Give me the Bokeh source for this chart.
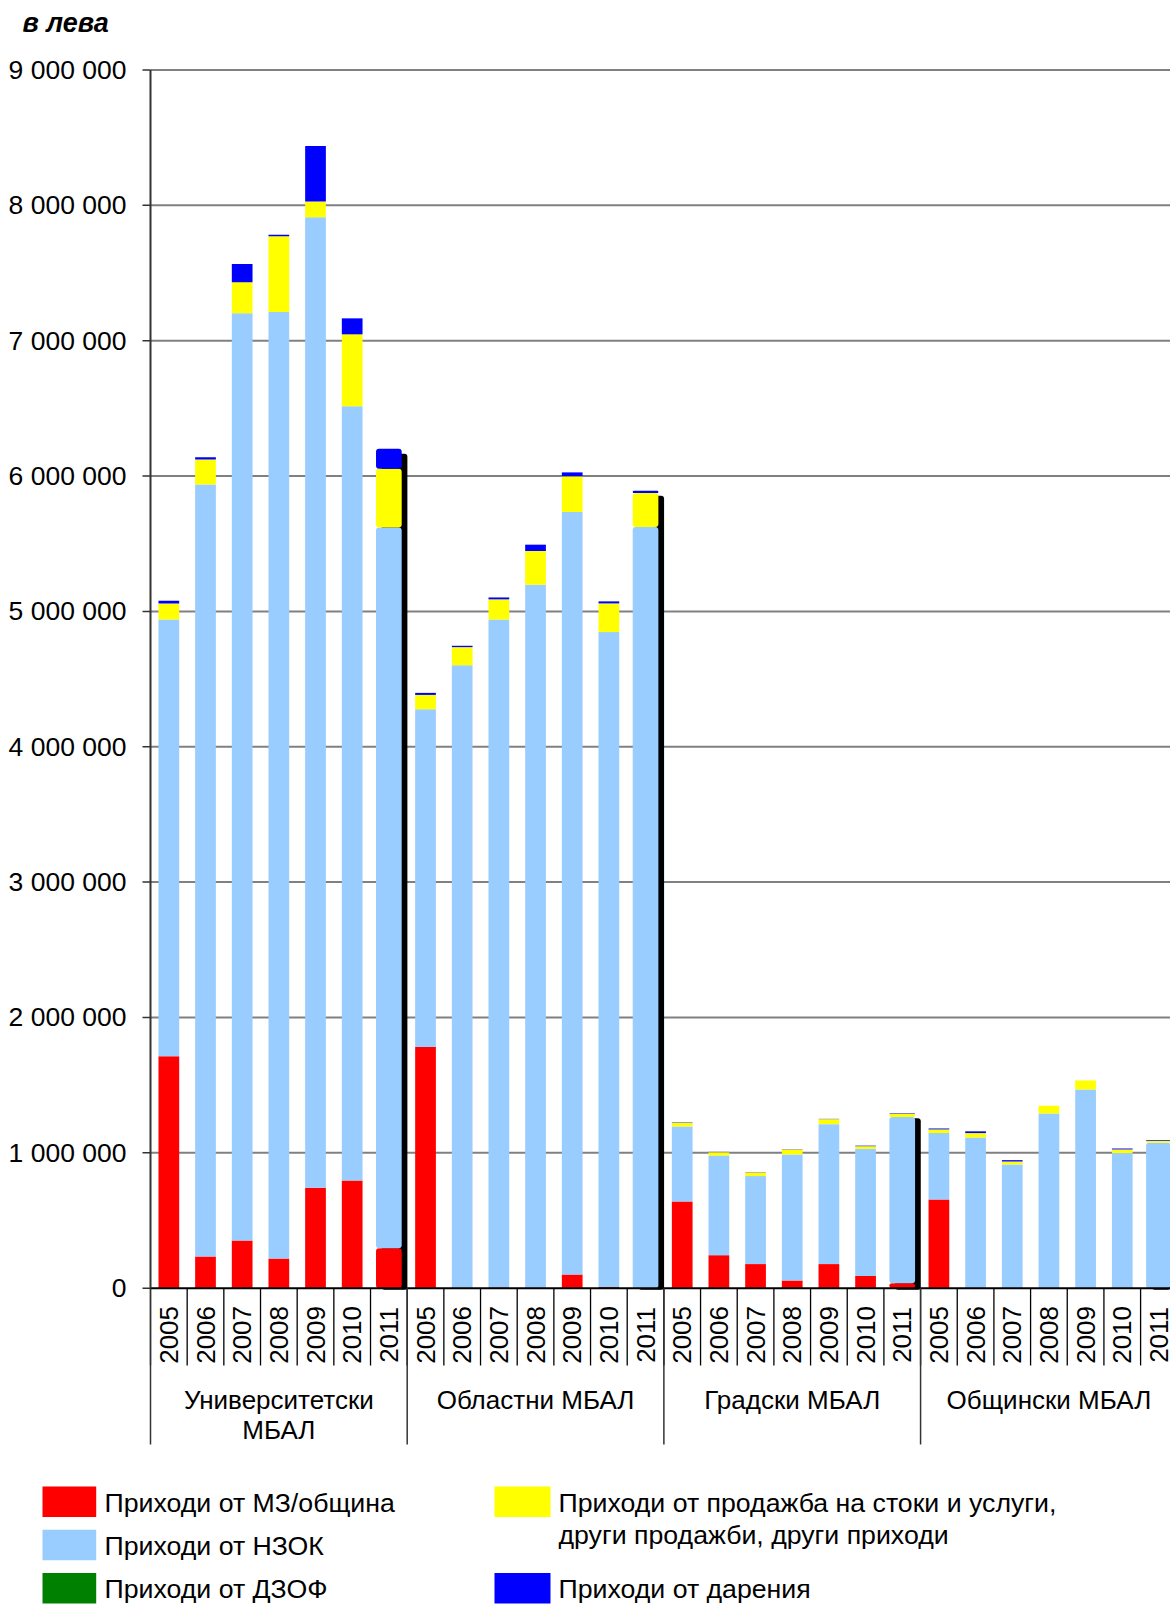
import numpy as np
from bokeh.plotting import figure
from bokeh.models import ColumnDataSource, Range1d
from bokeh.embed import file_html
from bokeh.resources import INLINE
from bokeh.core.properties import value

# ---------------- data ----------------
groups = ["Университетски\nМБАЛ", "Областни МБАЛ", "Градски МБАЛ", "Общински МБАЛ"]
years = ["2005", "2006", "2007", "2008", "2009", "2010", "2011"]
highlight_year = "2011"

series_names = [
    "Приходи от МЗ/община",
    "Приходи от НЗОК",
    "Приходи от ДЗОФ",
    "Приходи от продажба на стоки и услуги,\nдруги продажби, други приходи",
    "Приходи от дарения",
]
series_colors = ["#FF0000", "#99CCFF", "#008000", "#FFFF00", "#0000FF"]

y_ticks = [0, 1000000, 2000000, 3000000, 4000000, 5000000,
           6000000, 7000000, 8000000, 9000000]
y_unit_label = "в лева"

# values per bar (group-major: 7 years per group)
mz_obshtina = [1714000, 234000, 352000, 219000, 742000, 796000, 296000,
               1781000, 0, 6000, 4000, 101000, 8000, 0,
               641000, 244000, 178000, 57000, 178000, 91000, 37000,
               655000, 0, 0, 0, 0, 0, 0]
nzok = [3227000, 5704000, 6850000, 6993000, 7169000, 5719000, 5324000,
        2496000, 4602000, 4934000, 5193000, 5633000, 4839000, 5623000,
        554000, 736000, 650000, 931000, 1034000, 939000, 1227000,
        491000, 1113000, 914000, 1291000, 1468000, 998000, 1074000]
dzof = [0, 0, 0, 0, 0, 0, 0,
        0, 0, 0, 0, 0, 0, 0,
        0, 0, 0, 0, 0, 0, 0,
        0, 0, 0, 0, 0, 0, 0]
prodazhbi = [118000, 185000, 229000, 559000, 118000, 532000, 434000,
             106000, 134000, 149000, 249000, 264000, 212000, 251000,
             27000, 25000, 27000, 37000, 37000, 19000, 24000,
             27000, 33000, 22000, 57000, 67000, 27000, 15000]
darenia = [20000, 15000, 135000, 12000, 409000, 118000, 148000,
           15000, 10000, 14000, 47000, 29000, 15000, 18000,
           3000, 2000, 2000, 2000, 2000, 4000, 5000,
           7000, 13000, 10000, 0, 0, 7000, 5000]

# ---------------- layout constants (pixels) ----------------
FONT = value("Liberation Sans")
W, H = 1170, 1604
X0 = 150.0            # px of the value axis
SLOT_PX = 36.67       # px per bar slot
ZERO_Y = 1287.7       # px of value 0
M_PX = 135.36         # px per 1 000 000
BAR_W = 0.565
HL_W = 0.70


def X(px):
    return (px - X0) / SLOT_PX


def Y(py):
    return (ZERO_Y - py) / M_PX * 1e6


def dpx(px):
    return px / M_PX * 1e6


ng, ny = len(groups), len(years)
n = ng * ny
stackers = ["mz", "nzok", "dzof", "prod", "dar"]

x = np.arange(n) + 0.5
year_col = years * ng
data = dict(x=x, year=year_col, mz=mz_obshtina, nzok=nzok, dzof=dzof,
            prod=prodazhbi, dar=darenia)
total = np.sum([np.array(data[s], dtype=float) for s in stackers], axis=0)

hl = np.array([yy == highlight_year for yy in year_col])


def subset(mask):
    return {k: list(np.array(v)[mask]) for k, v in data.items()}


src_norm = ColumnDataSource(subset(~hl))
d_hl = subset(hl)
d_hl["sx"] = list(np.array(d_hl["x"]) + 5.7 / SLOT_PX)
d_hl["st"] = list(total[hl] - dpx(5))
src_hl = ColumnDataSource(d_hl)

p = figure(width=W, height=H, x_range=Range1d(X(0), X(W)),
           y_range=Range1d(Y(H), Y(0)), output_backend="svg",
           toolbar_location=None, x_axis_location=None, y_axis_location=None,
           min_border_left=0, min_border_right=0, min_border_top=0,
           min_border_bottom=0)
p.outline_line_color = None
p.background_fill_color = "white"
p.border_fill_color = "white"
p.xgrid.visible = False
p.ygrid.visible = False

x_end = X(W)

# gridlines
grid_y = y_ticks[1:]
p.segment(x0=np.zeros(len(grid_y)), y0=grid_y, x1=np.full(len(grid_y), x_end),
          y1=grid_y, line_color="#808080", line_width=2)

# value axis: ticks and labels
p.segment(x0=np.full(len(y_ticks), X(142)), y0=y_ticks,
          x1=np.zeros(len(y_ticks)), y1=y_ticks, line_color="#333333",
          line_width=1.5)
p.text(x=np.full(len(y_ticks), X(126)), y=y_ticks,
       text=[f"{v:,}".replace(",", " ") for v in y_ticks],
       text_align="right", text_baseline="middle", text_font=FONT,
       text_font_size="26.5px", text_color="black")

# bars
p.vbar_stack(stackers, x="x", width=BAR_W, fill_color=series_colors,
             line_color=None, source=src_norm)
p.vbar(x="sx", top="st", bottom=-dpx(1.5), width=HL_W, fill_color="black",
       line_color=None, border_radius=3, source=src_hl)
p.vbar_stack(stackers, x="x", width=HL_W, fill_color=series_colors,
             line_color=None, border_radius=3, source=src_hl)

# axis lines and category separators
p.segment(x0=0, y0=0, x1=x_end, y1=0, line_color="black", line_width=2)
p.segment(x0=0, y0=0, x1=0, y1=y_ticks[-1], line_color="#333333", line_width=2)
bounds = np.arange(n + 1)
p.segment(x0=bounds, y0=np.zeros(n + 1), x1=bounds,
          y1=np.full(n + 1, Y(1365)), line_color="black", line_width=1.3)
gb = np.arange(ng + 1) * ny
p.segment(x0=gb, y0=np.zeros(ng + 1), x1=gb, y1=np.full(ng + 1, Y(1444)),
          line_color="#333333", line_width=1.5)

# category labels
p.text(x=x, y=np.full(n, Y(1334.4)), text=year_col, angle=np.pi / 2,
       text_align="center", text_baseline="middle", text_font=FONT,
       text_font_size="26px", text_color="black")
gx = np.arange(ng) * ny + ny / 2
p.text(x=gx, y=np.full(ng, Y(1384)), text=groups, text_align="center",
       text_baseline="top", text_font=FONT, text_font_size="26px",
       text_line_height=1.03, text_color="black")

# unit label
p.text(x=[X(22)], y=[Y(22)], text=[y_unit_label], text_align="left",
       text_baseline="middle", text_font=FONT, text_font_size="27px",
       text_font_style="bold italic", text_color="black")

# ---------------- legend ----------------
col_of = [0, 0, 0, 1, 1]
row_of = [0, 1, 2, 0, 2]
sw_left = [42.0, 494.0]
sw_w = [53.7, 56.0]
tx = [104.0, 558.0]
row_y0, row_step = 1501.3, 43.2
ly = [row_y0 + r * row_step for r in row_of]
p.rect(x=[X(sw_left[c] + sw_w[c] / 2) for c in col_of], y=[Y(v) for v in ly],
       width=[sw_w[c] / SLOT_PX for c in col_of], height=dpx(30.5),
       fill_color=series_colors, line_color=None)
p.text(x=[X(tx[c]) for c in col_of], y=[Y(v - 14) for v in ly],
       text=series_names, text_align="left", text_baseline="top",
       text_font=FONT, text_font_size="26.7px", text_line_height=1.06,
       text_color="black")

open("out.html", "w").write(file_html(p, INLINE, "chart"))
